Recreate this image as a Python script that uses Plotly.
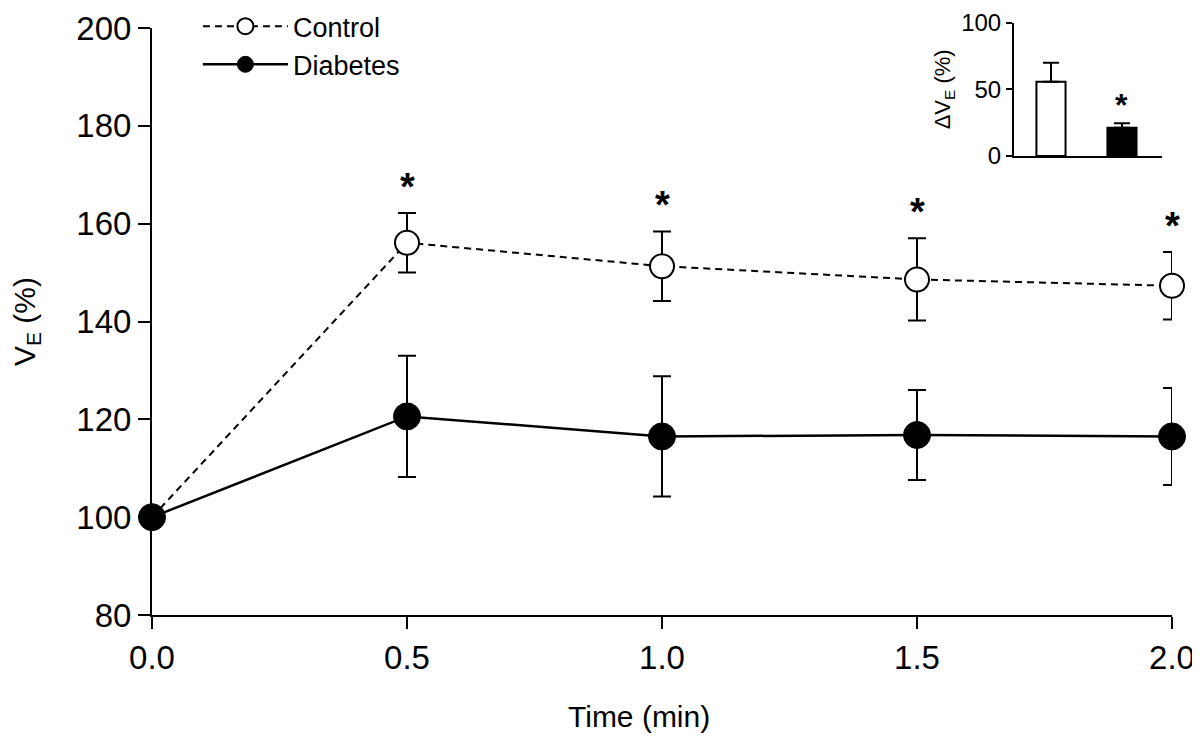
import plotly.graph_objects as go

# ---- main panel data ----
time_min = [0.0, 0.5, 1.0, 1.5, 2.0]
tick_labels = ["0.0", "0.5", "1.0", "1.5", "2.0"]
control_mean = [100, 156.1, 151.3, 148.6, 147.3]
control_sem = [0, 6.1, 7.1, 8.4, 6.9]
diabetes_mean = [100, 120.6, 116.5, 116.8, 116.5]
diabetes_sem = [0, 12.4, 12.3, 9.2, 9.9]
significant = [False, True, True, True, True]

# ---- inset data ----
inset_groups = [0, 1]
inset_names = ["Control", "Diabetes"]
inset_delta = [55.7, 21.2]
inset_sem = [14.3, 3.3]
inset_significant = [False, True]

FONT = "Arial, Liberation Sans, Helvetica, sans-serif"
BLACK = "#000000"

fig = go.Figure()

fig.add_trace(go.Scatter(
    x=time_min, y=control_mean, name="Control", mode="lines+markers",
    line=dict(color=BLACK, width=2, dash="7px,5px"),
    marker=dict(symbol="circle", size=24, color="white", line=dict(color=BLACK, width=2)),
    error_y=dict(type="data", array=control_sem, color=BLACK, thickness=2, width=9),
    cliponaxis=False,
))
fig.add_trace(go.Scatter(
    x=time_min, y=diabetes_mean, name="Diabetes", mode="lines+markers",
    line=dict(color=BLACK, width=2.5),
    marker=dict(symbol="circle", size=27, color=BLACK, line=dict(color=BLACK, width=1)),
    error_y=dict(type="data", array=diabetes_sem, color=BLACK, thickness=2, width=9),
    cliponaxis=False,
))

# significance stars (main)
for x, m, s, sig in zip(time_min, control_mean, control_sem, significant):
    if sig:
        fig.add_annotation(x=x, y=m + s, xref="x", yref="y", text="<b>*</b>",
                           showarrow=False, yanchor="middle", yshift=26,
                           font=dict(family=FONT, size=38, color=BLACK))

# inset bars
fig.add_trace(go.Bar(
    x=inset_groups, y=inset_delta, xaxis="x2", yaxis="y2", width=0.41,
    marker=dict(color=["white", BLACK], line=dict(color=BLACK, width=2)),
    error_y=dict(type="data", array=inset_sem, color=BLACK, thickness=2, width=8,
                 symmetric=False, arrayminus=[0, 0]),
    showlegend=False,
))
for x, m, s, sig in zip(inset_groups, inset_delta, inset_sem, inset_significant):
    if sig:
        fig.add_annotation(x=x, y=m + s, xref="x2", yref="y2", text="<b>*</b>",
                           showarrow=False, yanchor="middle", yshift=18,
                           font=dict(family=FONT, size=32, color=BLACK))

# x-axis title (placed as in the reference, slightly left of centre)
fig.add_annotation(x=0.4775, y=-0.171, xref="paper", yref="paper", text="Time (min)",
                   showarrow=False, xanchor="center", yanchor="middle",
                   font=dict(family=FONT, size=30, color=BLACK))

axis_common = dict(showline=True, linecolor=BLACK, linewidth=2, ticks="outside",
                   tickcolor=BLACK, tickwidth=2, showgrid=False, zeroline=False,
                   automargin=False)

fig.update_layout(
    width=1200, height=750,
    margin=dict(l=144, r=36, t=12, b=143, autoexpand=False),
    paper_bgcolor="white", plot_bgcolor="white",
    font=dict(family=FONT, color=BLACK),
    showlegend=True,
    legend=dict(x=0.045, y=1.03, xanchor="left", yanchor="top",
                bgcolor="rgba(0,0,0,0)", font=dict(family=FONT, size=27),
                itemwidth=85, tracegroupgap=0),
    xaxis=dict(domain=[0, 1], range=[0, 2], tickvals=time_min, ticktext=tick_labels,
               ticklen=12, tickfont=dict(size=33),
               **axis_common),
    yaxis=dict(domain=[0, 0.98655], range=[80, 200], tickvals=[80, 100, 120, 140, 160, 180, 200],
               ticklen=12, tickfont=dict(size=33),
               title=dict(text="V<sub>E</sub> (%)", font=dict(size=30), standoff=40),
               **axis_common),
    xaxis2=dict(domain=[0.8451, 0.9902], range=[-0.521, 1.564], anchor="y2",
                showline=True, linecolor=BLACK, linewidth=2, showticklabels=False,
                ticks="", showgrid=False, zeroline=False, automargin=False),
    yaxis2=dict(domain=[0.7714, 0.9955], range=[0, 100], tickvals=[0, 50, 100], anchor="x2",
                ticklen=6, tickfont=dict(size=24),
                title=dict(text="\u0394V<sub>E</sub> (%)", font=dict(size=22), standoff=4),
                **axis_common),
)

fig.write_html("out.html")
